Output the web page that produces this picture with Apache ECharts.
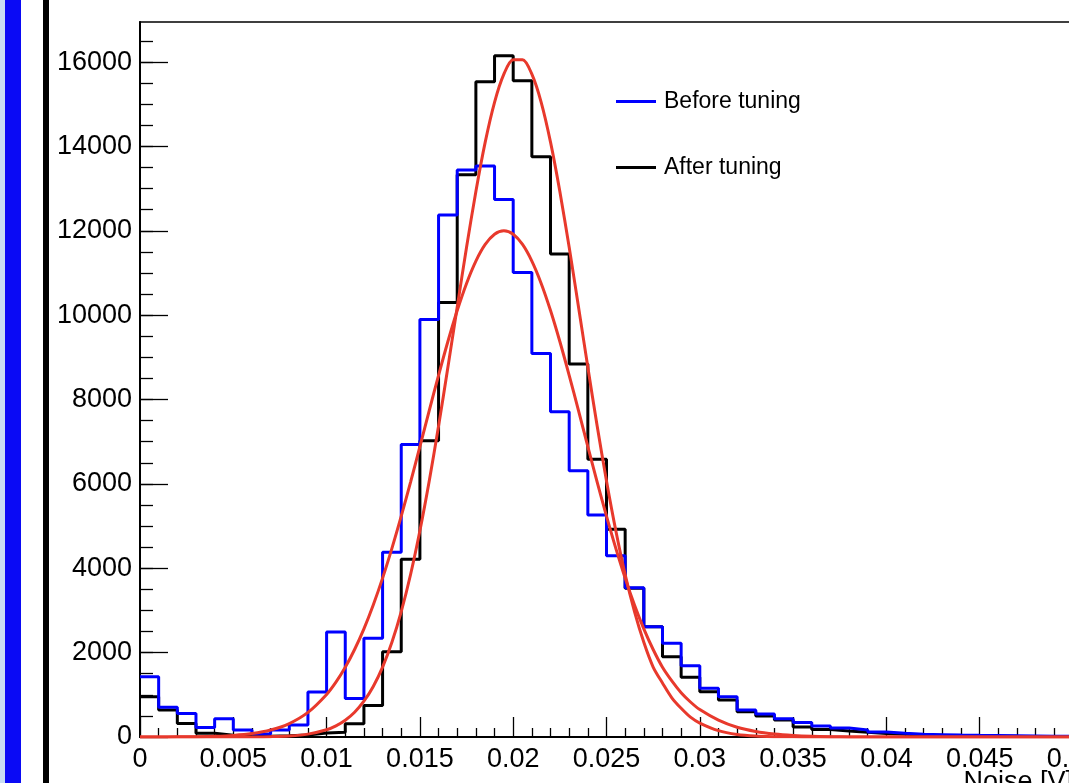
<!DOCTYPE html>
<html>
<head>
<meta charset="utf-8">
<script src="https://cdn.jsdelivr.net/npm/echarts@6/dist/echarts.min.js"></script>
<style>
html,body{margin:0;padding:0;background:#fff;}
#chart{width:1069px;height:783px;}
</style>
</head>
<body>
<div id="chart"></div>
<script>
// Bin edges (Noise [V])
const binEdges = [0,0.001,0.002,0.003,0.004,0.005,0.006,0.007,0.008,0.009,
  0.010,0.011,0.012,0.013,0.014,0.015,0.016,0.017,0.018,0.019,
  0.020,0.021,0.022,0.023,0.024,0.025,0.026,0.027,0.028,0.029,
  0.030,0.031,0.032,0.033,0.034,0.035,0.036,0.037,0.038,0.039,
  0.040,0.041,0.042,0.043,0.044,0.045,0.046,0.047,0.048,0.049,0.050];

// Histogram contents (50 bins)
const beforeTuning = [1430,703,560,225,435,166,70,166,284,1065,
  2490,915,2339,4378,6937,9900,12373,13440,13534,12745,
  11014,9094,7711,6312,5262,4298,3540,2615,2220,1691,
  1154,956,640,545,430,345,261,213,166,118,
  87,63,55,47,40,35,30,25,20,18];
const afterTuning = [955,640,320,87,40,25,20,30,50,95,
  115,316,748,2022,4211,7023,10303,13330,15533,16149,
  15556,13755,11448,8841,6585,4923,3524,2615,1904,1415,
  1074,877,600,498,403,240,180,140,110,85,
  65,50,40,32,26,21,17,14,12,10];

// Fit curves: points
const fitX = [0,0.001,0.002,0.003,0.004,0.005,0.006,0.007,0.008,0.009,
  0.010,0.0105,0.011,0.0115,0.012,0.0125,0.013,0.0135,0.014,0.0145,
  0.015,0.0155,0.016,0.0165,0.017,0.0175,0.018,0.0185,0.019,0.0195,
  0.020,0.0205,0.021,0.0215,0.022,0.0225,0.023,0.0235,0.024,0.0245,
  0.025,0.0255,0.026,0.0265,0.027,0.0275,0.028,0.0285,0.029,0.0295,
  0.030,0.031,0.032,0.033,0.034,0.035,0.036,0.037,0.038,0.039,
  0.040,0.041,0.042,0.043,0.044,0.045,0.046,0.047,0.048,0.049,0.050];
const fitBefore = [0,1,3,7,17,38,81,165,319,583,
  1010,1301,1654,2075,2564,3130,3766,4471,5234,6044,
  6886,7738,8575,9376,10110,10753,11282,11676,11918,12000,
  11918,11676,11282,10753,10110,9376,8575,7738,6886,6044,
  5234,4471,3766,3130,2564,2075,1654,1330,1050,830,
  650,400,230,130,70,35,15,6,2,1,
  0,0,0,0,0,0,0,0,0,0,0];
const fitAfter = [0,0,0,0,0,1,2,8,24,68,
  171,264,398,587,848,1198,1658,2244,2972,3853,
  4888,6068,7370,8763,10196,11608,12933,14102,15047,15714,
  16057,16057,15714,15047,14102,12933,11608,10196,8763,7370,
  6068,4888,3853,2972,2244,1658,1280,930,680,470,
  330,150,60,22,8,3,1,0,0,0,
  0,0,0,0,0,0,0,0,0,0,0];

const seriesNames = ['Before tuning','After tuning'];
const yMajorTicks = [0,2000,4000,6000,8000,10000,12000,14000,16000];
const yMinorTicks = [500,1000,1500,2000,2500,3000,3500,4000,4500,5000,5500,6000,6500,7000,7500,8000,
  8500,9000,9500,10000,10500,11000,11500,12000,12500,13000,13500,14000,14500,15000,15500,16000,16500];

function histData(vals){
  const d = vals.map((v,i)=>[binEdges[i], v]);
  d.push([binEdges[vals.length], vals[vals.length-1]]);
  return d;
}
function curveData(vals){ return vals.map((v,i)=>[fitX[i], v]); }

const FONT = '"Liberation Sans", Arial, Helvetica, sans-serif';
const chart = echarts.init(document.getElementById('chart'), null, {renderer:'canvas'});
chart.setOption({
  animation:false,
  backgroundColor:'#fff',
  graphic:[
    {type:'rect', shape:{x:0,y:0,width:5,height:783}, style:{fill:'#c8ddf3'}, z:0},
    {type:'rect', shape:{x:5,y:0,width:16,height:783}, style:{fill:'#0a0af5'}, z:0},
    {type:'rect', shape:{x:43,y:0,width:6,height:783}, style:{fill:'#000'}, z:0}
  ],
  grid:{left:140, top:22, width:933, height:715, show:true, borderColor:'#000', borderWidth:1.5,
    backgroundColor:'transparent', containLabel:false, outerBoundsMode:'none'},
  legend:{
    orient:'vertical', left:616, top:90, padding:0, itemGap:43, itemWidth:40, itemHeight:3, icon:'rect',
    data:seriesNames,
    textStyle:{fontFamily:FONT, fontSize:23, color:'#000', padding:[0,0,0,3]}
  },
  xAxis:{
    type:'value', min:0, max:0.05, interval:0.005,
    name:'Noise [V]', nameLocation:'end', nameGap:0, nameMoveOverlap:false,
    nameTextStyle:{fontFamily:FONT, fontSize:27, color:'#000', align:'right', verticalAlign:'top', padding:[32,0,0,0]},
    axisLine:{show:true, lineStyle:{color:'#000', width:2}},
    axisTick:{show:true, inside:true, length:20, lineStyle:{color:'#000', width:1.3}},
    minorTick:{show:true, splitNumber:5, length:9, lineStyle:{color:'#000', width:1.3}},
    axisLabel:{fontFamily:FONT, fontSize:27, color:'#000', margin:9,
      formatter:v=>String(parseFloat(v.toFixed(3)))},
    splitLine:{show:false}
  },
  yAxis:[{
    type:'value', min:0, max:16950, position:'left',
    axisLine:{show:true, lineStyle:{color:'#000', width:2}},
    axisTick:{show:true, inside:true, length:28, customValues:yMajorTicks, lineStyle:{color:'#000', width:1.3}},
    axisLabel:{fontFamily:FONT, fontSize:27, color:'#000', margin:8, customValues:yMajorTicks,
      formatter:v=>String(v)},
    splitLine:{show:false}
  },{
    type:'value', min:0, max:16950, position:'left', offset:0,
    axisLine:{show:false},
    axisTick:{show:true, inside:true, length:13, customValues:yMinorTicks, lineStyle:{color:'#000', width:1.3}},
    axisLabel:{show:false},
    splitLine:{show:false}
  }],
  series:[
    {name:'After tuning', type:'line', step:'end', data:histData(afterTuning), symbol:'none',
      lineStyle:{color:'#000', width:3}, itemStyle:{color:'#000'}, z:2},
    {name:'Before tuning', type:'line', step:'end', data:histData(beforeTuning), symbol:'none',
      lineStyle:{color:'#0000ff', width:3}, itemStyle:{color:'#0000ff'}, z:3},
    {name:'fit before', type:'line', smooth:0.3, data:curveData(fitBefore), symbol:'none',
      lineStyle:{color:'#e8392c', width:3}, z:4},
    {name:'fit after', type:'line', smooth:0.3, data:curveData(fitAfter), symbol:'none',
      lineStyle:{color:'#e8392c', width:3}, z:4}
  ]
});
</script>
</body>
</html>
